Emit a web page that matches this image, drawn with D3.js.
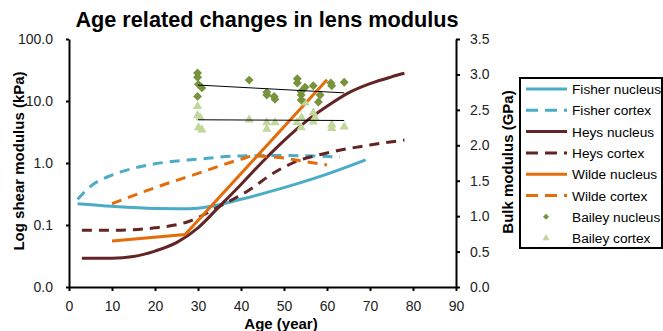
<!DOCTYPE html>
<html>
<head>
<meta charset="utf-8">
<script src="https://cdn.jsdelivr.net/npm/d3@7"></script>
<style>
  body { margin: 0; background: #fff; }
  text { font-family: "Liberation Sans", Arial, sans-serif; }
  .axis path, .axis line { stroke: #000; stroke-width: 2; }
  .axis text { font-size: 14px; fill: #222; font-family: "Liberation Sans", Arial, sans-serif; }
</style>
</head>
<body>
<script>
// ---- data ----
const xTicks = [0, 10, 20, 30, 40, 50, 60, 70, 80, 90];
const leftTicks = [0.01, 0.1, 1, 10, 100];
const rightTicks = [0, 0.5, 1, 1.5, 2, 2.5, 3, 3.5];

// [age, shear modulus kPa]
const fisherNucleus = [[2, 0.22], [10, 0.2], [20, 0.185], [28, 0.183], [33, 0.2], [40, 0.26], [50, 0.4], [60, 0.66], [69, 1.12]];
const fisherCortex = [[2, 0.26], [5, 0.42], [10, 0.64], [15, 0.82], [20, 0.97], [30, 1.15], [40, 1.3], [50, 1.32], [63, 1.25]];
const heysNucleus = [[3, 0.029], [10, 0.029], [15, 0.031], [20, 0.038], [25, 0.052], [30, 0.09], [35, 0.2], [40, 0.45], [45, 1.05], [50, 2.3], [55, 4.6], [60, 8.2], [65, 13.5], [70, 19], [75, 24.5], [78, 28]];
const heysCortex = [[3, 0.082], [10, 0.082], [20, 0.09], [28, 0.115], [35, 0.2], [42, 0.37], [47, 0.65], [52, 1.0], [60, 1.45], [70, 1.95], [78, 2.35]];
const wildeNucleus = [[10, 0.055], [27, 0.07], [60, 22]];
const wildeCortex = [[10, 0.22], [20, 0.4], [30, 0.68], [40, 1.15], [43, 1.3], [50, 1.2], [55, 1.05], [60, 0.93]];

// [age, bulk modulus GPa]
const baileyNucleus = [[29.9, 3.02], [29.9, 2.96], [30.1, 2.86], [30.9, 2.81], [29.9, 2.69], [41.9, 2.92], [46, 2.75], [46, 2.71],
  [47.7, 2.69], [47.9, 2.65], [53.1, 2.94], [53.1, 2.88], [54.9, 2.82], [56.8, 2.84], [54, 2.76], [54, 2.71], [54, 2.64],
  [58.4, 2.71], [58, 2.61], [60.9, 2.88], [61.1, 2.84], [64, 2.89]];
const baileyCortex = [[29.9, 2.55], [29.9, 2.42], [30.5, 2.39], [30.1, 2.25], [30.9, 2.22], [41.9, 2.36], [46, 2.32], [46, 2.23],
  [47.9, 2.32], [53, 2.32], [54, 2.25], [54.9, 2.6], [54.1, 2.39], [56.8, 2.46], [57.2, 2.39], [56.8, 2.33], [61.1, 2.29],
  [61.1, 2.24], [64, 2.26]];
const baileyNucleusTrend = [[30, 2.85], [64, 2.74]];
const baileyCortexTrend = [[30, 2.36], [64, 2.35]];

const w = 663, h = 331;
const mLeft = 69, mRight = 456, mTop = 39, mBottom = 287;

const svg = d3.select("body").append("svg")
  .attr("width", w)
  .attr("height", h);

let xScale = d3.scaleLinear().domain([0, 90]).range([mLeft, mRight]);
let yLeft = d3.scaleLog().domain([0.01, 100]).range([mBottom, mTop]);
let yRight = d3.scaleLinear().domain([0, 3.5]).range([mBottom, mTop]);

//title
svg.append("text")
  .attr("x", 267).attr("y", 27)
  .attr("text-anchor", "middle")
  .style("font-size", "21.7px").style("font-weight", "bold")
  .text("Age related changes in lens modulus");

//lines
const series = [
  { name: "Fisher nucleus", data: fisherNucleus, color: "#4bacc6", dash: null },
  { name: "Fisher cortex", data: fisherCortex, color: "#4bacc6", dash: "10,7" },
  { name: "Heys nucleus", data: heysNucleus, color: "#632523", dash: null },
  { name: "Heys cortex", data: heysCortex, color: "#632523", dash: "10,7" },
  { name: "Wilde nucleus", data: wildeNucleus, color: "#e46c0a", dash: null, linear: true },
  { name: "Wilde cortex", data: wildeCortex, color: "#e46c0a", dash: "10,7" }
];

series.forEach(s => {
  let line = d3.line()
    .x(d => xScale(d[0]))
    .y(d => yLeft(d[1]))
    .curve(s.linear ? d3.curveLinear : d3.curveMonotoneX);
  svg.append("path")
    .datum(s.data)
    .attr("fill", "none")
    .attr("stroke", s.color)
    .attr("stroke-width", 3)
    .attr("stroke-dasharray", s.dash)
    .attr("d", line);
});

//bailey scatter on right axis
const diamond = d3.symbol().type(d3.symbolSquare).size(40);
const smallDiamond = d3.symbol().type(d3.symbolSquare).size(18);
const triangle = d3.symbol().type(d3.symbolTriangle).size(38);
const smallTriangle = d3.symbol().type(d3.symbolTriangle).size(22);

svg.selectAll(".bc")
  .data(baileyCortex)
  .enter()
  .append("path")
  .attr("class", "bc")
  .attr("d", triangle)
  .attr("fill", "#c3d69b")
  .attr("transform", d => "translate(" + xScale(d[0]) + "," + yRight(d[1]) + ")");

svg.selectAll(".bn")
  .data(baileyNucleus)
  .enter()
  .append("path")
  .attr("class", "bn")
  .attr("d", diamond)
  .attr("fill", "#77933c")
  .attr("transform", d => "translate(" + xScale(d[0]) + "," + yRight(d[1]) + ") rotate(45)");

let trend = d3.line().x(d => xScale(d[0])).y(d => yRight(d[1]));
[baileyNucleusTrend, baileyCortexTrend].forEach(t => {
  svg.append("path")
    .datum(t)
    .attr("fill", "none")
    .attr("stroke", "#000")
    .attr("stroke-width", 1)
    .attr("d", trend);
});

//axes
svg.append("g")
  .attr("class", "axis")
  .attr("transform", "translate(0," + mBottom + ")")
  .call(d3.axisBottom(xScale).tickValues(xTicks).tickSize(4).tickSizeOuter(0).tickPadding(10));
svg.append("g")
  .attr("class", "axis")
  .attr("transform", "translate(" + mLeft + ",0)")
  .call(d3.axisLeft(yLeft).tickValues(leftTicks).tickSize(3).tickSizeOuter(0).tickPadding(13)
    .tickFormat(d => d < 0.05 ? "0.0" : d3.format(".1f")(d)));
svg.append("g")
  .attr("class", "axis")
  .attr("transform", "translate(" + mRight + ",0)")
  .call(d3.axisRight(yRight).tickValues(rightTicks).tickSize(4).tickSizeOuter(0).tickPadding(10)
    .tickFormat(d3.format(".1f")));

//axis titles
svg.append("text")
  .attr("x", 281).attr("y", 329)
  .attr("text-anchor", "middle")
  .style("font-size", "15px").style("font-weight", "bold")
  .text("Age (year)");
svg.append("text")
  .attr("transform", "translate(24,161) rotate(-90)")
  .attr("text-anchor", "middle")
  .style("font-size", "15px").style("font-weight", "bold")
  .text("Log shear modulus (kPa)");
svg.append("text")
  .attr("transform", "translate(513,162) rotate(-90)")
  .attr("text-anchor", "middle")
  .style("font-size", "15px").style("font-weight", "bold")
  .text("Bulk modulus (GPa)");

//legend
const lg = svg.append("g").attr("transform", "translate(520,78)");
lg.append("rect")
  .attr("x", 0).attr("y", 0)
  .attr("width", 142).attr("height", 170)
  .attr("fill", "#fff").attr("stroke", "#000").attr("stroke-width", 2);

series.forEach((s, i) => {
  let yy = 11 + i * 21.3;
  lg.append("line")
    .attr("x1", 6).attr("x2", 47)
    .attr("y1", yy).attr("y2", yy)
    .attr("stroke", s.color).attr("stroke-width", 3)
    .attr("stroke-dasharray", s.dash ? "12,7" : null);
  lg.append("text")
    .attr("x", 52).attr("y", yy + 5)
    .style("font-size", "13.7px")
    .text(s.name);
});
[["Bailey nucleus", smallDiamond, "#77933c", 45], ["Bailey cortex", smallTriangle, "#c3d69b", 0]].forEach((m, j) => {
  let yy = 11 + (6 + j) * 21.3;
  lg.append("path")
    .attr("d", m[1])
    .attr("fill", m[2])
    .attr("transform", "translate(26," + yy + ") rotate(" + m[3] + ")");
  lg.append("text")
    .attr("x", 52).attr("y", yy + 5)
    .style("font-size", "13.7px")
    .text(m[0]);
});
</script>
</body>
</html>
